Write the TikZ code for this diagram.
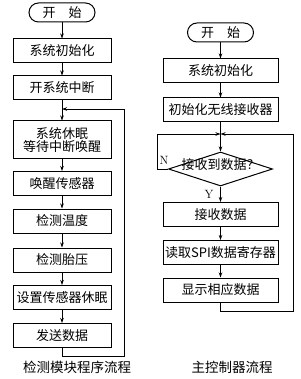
\documentclass[tikz,border=0pt]{standalone}
\usepackage{fontspec}
\newfontfamily\cjk{Noto Sans CJK SC}
\usetikzlibrary{arrows.meta,shapes.geometric}
\begin{document}
\begin{tikzpicture}[x=1pt,y=-1pt,
  every node/.style={font=\cjk\fontsize{13}{15}\selectfont, inner sep=0pt},
  boxl/.style={draw, line width=1pt, minimum width=98pt, minimum height=24pt},
  boxr/.style={draw, line width=1pt, minimum width=115pt, minimum height=24pt},
  term/.style={draw, line width=1pt, rounded corners=9.5pt, minimum width=66pt, minimum height=19pt},
  dia/.style={draw, line width=1pt, diamond, aspect=3.06, minimum width=104pt, minimum height=34pt},
  flow/.style={line width=0.8pt, -{Stealth[length=5pt,width=3.5pt]}},
  captext/.style={font=\cjk\fontsize{13.5}{15}\selectfont},
  lbl/.style={font=\fontsize{12}{13}\selectfont}
]
\useasboundingbox (0,0) rectangle (300,379);
% left column
\node[term] (s1) at (62,12.5) {开\hspace{1em}始};
\node[boxl] (b1) at (62,51) {系统初始化};
\node[boxl] (b2) at (62,88) {开系统中断};
\node[boxl, minimum height=38pt, align=center] (b3) at (62,140) {系统休眠\\[-2pt]等待中断唤醒};
\node[boxl] (b4) at (62,183.5) {唤醒传感器};
\node[boxl] (b5) at (62,221) {检测温度};
\node[boxl] (b6) at (62,260) {检测胎压};
\node[boxl] (b7) at (62,297.5) {设置传感器休眠};
\node[boxl] (b8) at (62,335.5) {发送数据};
\coordinate (jl) at (62,109);
\coordinate (lr) at (124,356);
\draw[flow] (s1) -- (b1);
\draw[flow] (b1) -- (b2);
\draw[flow] (b2) -- (b3);
\draw[flow] (b3) -- (b4);
\draw[flow] (b4) -- (b5);
\draw[flow] (b5) -- (b6);
\draw[flow] (b6) -- (b7);
\draw[flow] (b7) -- (b8);
\draw[flow] (b8.south) |- (lr) |- (jl);
\node[captext] (c1) at (77,367) {检测模块程序流程};
% right column
\node[term] (s2) at (220.5,32.5) {开\hspace{1em}始};
\node[boxr] (r1) at (220.5,71) {系统初始化};
\node[boxr] (r2) at (220.5,110) {初始化无线接收器};
\node[dia] (d) at (220.5,169) {\makebox[0pt]{\smash{接收到数据？}}};
\node[boxr] (r3) at (220.5,214.5) {接收数据};
\node[boxr] (r4) at (220.5,252.5) {读取SPI数据寄存器};
\node[boxr] (r5) at (220.5,290) {显示相应数据};
\coordinate (jr) at (220.5,134);
\coordinate (rr) at (293,311);
\coordinate (nl) at (157,134);
\draw[flow] (s2) -- (r1);
\draw[flow] (r1) -- (r2);
\draw[flow] (r2) -- (d);
\draw[flow] (d) -- (r3);
\draw[flow] (r3) -- (r4);
\draw[flow] (r4) -- (r5);
\draw[flow] (r5.south) |- (rr) |- (jr);
\draw[flow] (d.west) -| (nl) -- (jr);
\node[lbl] (n) at (164,160) {N};
\node[lbl] (y) at (209,194) {Y};
\node[captext] (c2) at (232,367) {主控制器流程};
\end{tikzpicture}
\end{document}
